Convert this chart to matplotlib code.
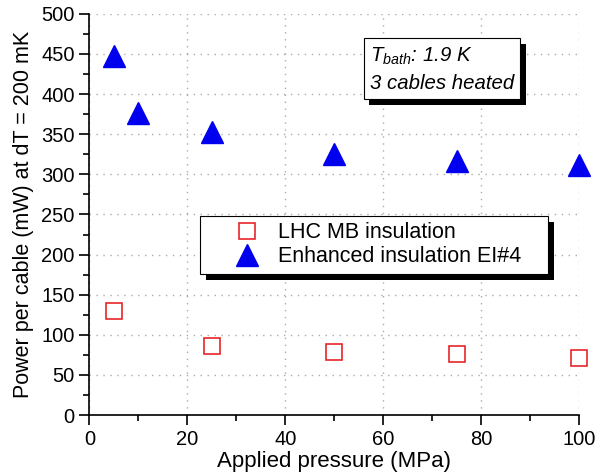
import matplotlib
matplotlib.use("Agg")
import matplotlib.pyplot as plt
import matplotlib.patheffects as pe
from matplotlib.ticker import MultipleLocator

plt.rcParams['font.family'] = ['Liberation Sans', 'DejaVu Sans']
plt.rcParams['mathtext.fontset'] = 'custom'
plt.rcParams['mathtext.it'] = 'Liberation Sans:italic'
plt.rcParams['mathtext.rm'] = 'Liberation Sans'

# data
pressure_lhc = [5, 25, 50, 75, 100]
power_lhc = [130, 86, 78, 76, 71]
pressure_ei4 = [5, 10, 25, 50, 75, 100]
power_ei4 = [448, 377, 353, 325, 316, 311]

fig = plt.figure(figsize=(5.96, 4.76), dpi=100)
ax = fig.add_axes([0.150, 0.128, 0.822, 0.843])

ax.plot(pressure_lhc, power_lhc, linestyle='none', marker='s', markersize=11,
        markerfacecolor='white', markeredgecolor='#e8262a', markeredgewidth=1.2,
        label='LHC MB insulation', zorder=3, clip_on=False)
ax.plot(pressure_ei4, power_ei4, linestyle='none', marker='^', markersize=16,
        color='#0000ee', label='Enhanced insulation EI#4', zorder=3, clip_on=False)

ax.set_xlim(0, 100)
ax.set_ylim(0, 500)
ax.xaxis.set_major_locator(MultipleLocator(20))
ax.xaxis.set_minor_locator(MultipleLocator(10))
ax.yaxis.set_major_locator(MultipleLocator(50))
ax.yaxis.set_minor_locator(MultipleLocator(25))
ax.tick_params(which='both', direction='out', labelsize=14.5, width=1.2)
ax.tick_params(which='major', length=7)
ax.tick_params(which='minor', length=4)
ax.spines['top'].set_visible(False)
ax.spines['right'].set_visible(False)
ax.spines['left'].set_linewidth(1.2)
ax.spines['bottom'].set_linewidth(1.2)
ax.grid(True, which='major', linestyle=(0, (1, 4)), color='#aaaaaa', linewidth=1)
ax.set_axisbelow(True)

ax.set_xlabel('Applied pressure (MPa)', fontsize=16, labelpad=2)
ax.set_ylabel('Power per cable (mW) at dT = 200 mK', fontsize=15.5, labelpad=5)

# black drop shadow, about 6 px down and right
shadow = [pe.SimplePatchShadow(offset=(4.3, -4.3), shadow_rgbFace='black', alpha=1.0),
          pe.Normal()]

leg = ax.legend(loc='upper left', bbox_to_anchor=(0.2256, 0.397, 0.7105, 0.1),
                mode='expand', fontsize=15.5,
                frameon=True, fancybox=False, edgecolor='black', framealpha=1,
                borderpad=0.3, handletextpad=-0.46, labelspacing=0.15,
                handlelength=3.8, markerscale=1.0, borderaxespad=0)
leg.get_frame().set_linewidth(0.8)
leg.get_frame().set_path_effects(shadow)
leg.set_zorder(6)

txt = ax.text(0.572, 0.920, "$\\mathit{T}_{\\mathit{bath}}$: 1.9 K\n3 cables heated",
              transform=ax.transAxes, fontsize=14.7, style='italic',
              va='top', ha='left', linespacing=1.45, zorder=6,
              bbox=dict(boxstyle='square,pad=0.3', facecolor='white',
                        edgecolor='black', linewidth=0.8))
txt.get_bbox_patch().set_path_effects(shadow)

fig.savefig('out.png', dpi=100)

# make sure the shadow really is in the saved picture
img = plt.imread('out.png')
bb = leg.get_window_extent(fig.canvas.get_renderer())
row = img.shape[0] - int(bb.y0) + 3
col = int(bb.x1) + 3
px = img[row, col, :3]
if px.mean() > 0.5:
    raise RuntimeError(f"shadow missing: shape={img.shape} bb={bb} px={px}")
